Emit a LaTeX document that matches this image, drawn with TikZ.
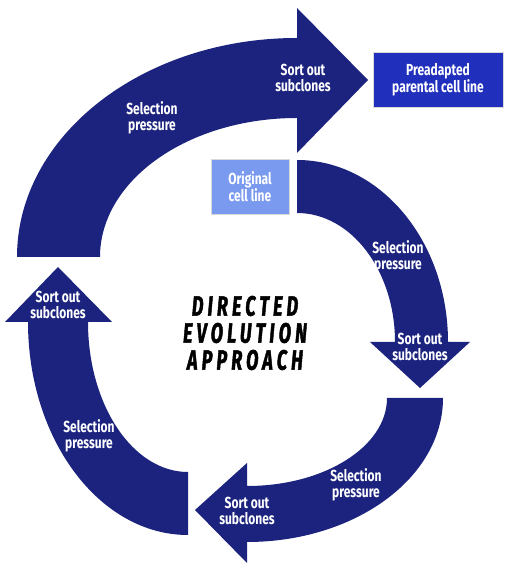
\documentclass[tikz,border=0pt]{standalone}
\usepackage{fontspec}
\newfontfamily\labfont[FakeStretch=0.75]{Fira Sans}
\newfontfamily\titfont[FakeStretch=0.64,LetterSpace=15,FakeBold=1.5]{Fira Sans}
\definecolor{navy}{RGB}{27,35,126}
\definecolor{boxdark}{RGB}{32,48,188}
\definecolor{boxlight}{RGB}{122,154,240}
\tikzset{
  arrowshape/.style={fill=navy, draw=none},
  lab/.style={text=white, align=center, font=\labfont\bfseries\fontsize{16}{16}\selectfont, inner sep=0pt},
  cellbox/.style={minimum width=#1, minimum height=55pt, inner sep=0pt, align=center, text=white,
    font=\labfont\bfseries\fontsize{16}{16}\selectfont, draw=white!85!black, line width=0.4pt},
}
\begin{document}
\begin{tikzpicture}[x=1pt,y=1pt]
\useasboundingbox (0,0) rectangle (508,570);
% big top arc
\fill[arrowshape] (17,313) arc[start angle=180,end angle=90,x radius=280pt,y radius=219pt]
  -- (297,562) -- (368,490) -- (297,417) -- (297,452)
  arc[start angle=90,end angle=180,x radius=197pt,y radius=139pt] -- cycle;
% right arc
\fill[arrowshape] (297,410) arc[start angle=90,end angle=0,x radius=151pt,y radius=182pt]
  -- (470,228) -- (420,182) -- (370,228) -- (395,228)
  arc[start angle=0,end angle=90,x radius=98pt,y radius=129pt] -- cycle;
% bottom right arc
\fill[arrowshape] (443,172) arc[start angle=0,end angle=-90,x radius=196pt,y radius=144pt]
  -- (247,7) -- (195,60) -- (247,107) -- (247,84)
  arc[start angle=-90,end angle=0,x radius=140pt,y radius=88pt] -- cycle;
% left arc
\fill[arrowshape] (188,35) arc[start angle=270,end angle=180,x radius=160pt,y radius=213pt]
  -- (5,248) -- (58,303) -- (112,248) -- (88,248)
  arc[start angle=180,end angle=270,x radius=100pt,y radius=150pt] -- cycle;
% boxes
\node[cellbox=78pt, fill=boxlight] (orig) at (250,383.5) {Original\\cell line};
\node[cellbox=130pt, fill=boxdark] (pre) at (438,490.5) {Preadapted\\parental cell line};
% labels
\node[lab] (l1) at (303,492) {Sort out\\subclones};
\node[lab] (l2) at (152,452) {Selection\\pressure};
\node[lab] (l3) at (398,313) {Selection\\pressure};
\node[lab] (l4) at (420,223) {Sort out\\subclones};
\node[lab] (l5) at (356,85) {Selection\\pressure};
\node[lab] (l6) at (247,59) {Sort out\\subclones};
\node[lab] (l7) at (89,134) {Selection\\pressure};
\node[lab] (l8) at (58,265) {Sort out\\subclones};
% title
\node[align=center, inner sep=0pt, font=\titfont\bfseries\itshape\fontsize{28}{27}\selectfont] (title) at (245,237)
  {DIRECTED\\EVOLUTION\\APPROACH};
\end{tikzpicture}
\end{document}
